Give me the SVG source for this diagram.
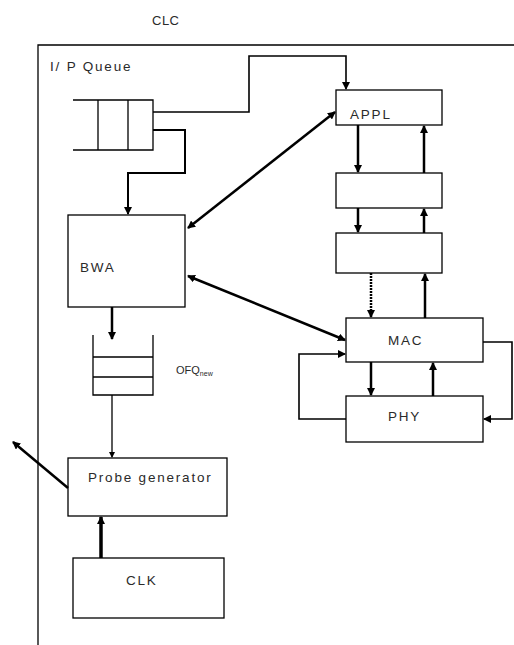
<svg xmlns="http://www.w3.org/2000/svg" width="514" height="645" viewBox="0 0 514 645">
<defs>
<marker id="ah" markerWidth="8" markerHeight="8" refX="7" refY="4" orient="auto" markerUnits="userSpaceOnUse">
<path d="M0,0 L8,4 L0,8 Z" fill="#000"/>
</marker>
<marker id="ahs" markerWidth="8" markerHeight="8" refX="7" refY="4" orient="auto-start-reverse" markerUnits="userSpaceOnUse">
<path d="M0,0 L8,4 L0,8 Z" fill="#000"/>
</marker>
<marker id="ahsm" markerWidth="6" markerHeight="6" refX="5" refY="3" orient="auto" markerUnits="userSpaceOnUse">
<path d="M0,0 L6,3 L0,6 Z" fill="#000"/>
</marker>
</defs>
<style>
.box{fill:#fff;stroke:#000;stroke-width:1.3}
.ln{fill:none;stroke:#000;stroke-width:1.3}
.th{fill:none;stroke:#000;stroke-width:2.5}
.t{font-family:"Liberation Sans",Arial,sans-serif;font-size:13.5px;fill:#2a2a2a;letter-spacing:1.8px}
</style>
<rect width="514" height="645" fill="#fff"/>
<g id="frame">
<path class="ln" d="M514,45 H38 V645"/>
<text class="t" x="152" y="25" style="letter-spacing:0.5px;font-size:13px">CLC</text>
<text class="t" x="50" y="71">I/ P Queue</text>
</g>
<g id="ipqueue">
<path class="ln" d="M73,100 H153 V150 H73 M98,100 V150 M128,100 V150"/>
</g>
<g id="appl"><rect class="box" x="336" y="90" width="106" height="35"/><text class="t" x="350" y="119">APPL</text></g>
<g id="layer2"><rect class="box" x="336" y="173" width="106" height="35"/></g>
<g id="layer3"><rect class="box" x="336" y="233" width="106" height="40"/></g>
<g id="mac"><rect class="box" x="346" y="318" width="137" height="44"/><text class="t" x="388" y="345">MAC</text></g>
<g id="phy"><rect class="box" x="346" y="396" width="137" height="46"/><text class="t" x="388" y="421">PHY</text></g>
<g id="bwa"><rect class="box" x="68" y="215" width="117" height="92"/><text class="t" x="80" y="272">BWA</text></g>
<g id="ofq">
<path class="ln" d="M93,335 V395 H153 V335 M93,357 H153 M93,377 H153"/>
<text class="t" x="176" y="374" style="font-size:11px;letter-spacing:0">OFQ<tspan font-size="7" dy="2">new</tspan></text>
</g>
<g id="probe"><rect class="box" x="68" y="458" width="159" height="58"/><text class="t" x="88" y="482">Probe generator</text></g>
<g id="clk"><rect class="box" x="73" y="558" width="151" height="60"/><text class="t" x="126" y="585">CLK</text></g>
<g id="connectors">
<path class="ln" d="M153,112 H249 V56 H346 V89" marker-end="url(#ah)" style="stroke-width:1.6"/>
<path class="th" d="M153,130 H185 V173 H128 V214" marker-end="url(#ah)" style="stroke-width:2"/>
<path class="th" d="M188,228 L335,112" marker-start="url(#ahs)" marker-end="url(#ah)"/>
<path class="th" d="M188,276 L345,340" marker-start="url(#ahs)" marker-end="url(#ah)"/>
<path class="th" d="M358,125 V172" marker-end="url(#ah)"/>
<path class="th" d="M424,173 V126" marker-end="url(#ah)"/>
<path class="th" d="M358,208 V232" marker-end="url(#ah)"/>
<path class="th" d="M424,233 V209" marker-end="url(#ah)"/>
<path class="th" d="M371,273 V317" marker-end="url(#ah)" stroke-dasharray="2,1"/>
<path class="th" d="M425,318 V274" marker-end="url(#ah)"/>
<path class="th" d="M371,362 V395" marker-end="url(#ah)"/>
<path class="th" d="M433,396 V363" marker-end="url(#ah)"/>
<path class="ln" d="M346,419 H299 V354 H345" marker-end="url(#ah)" style="stroke-width:1.6"/>
<path class="ln" d="M483,342 H512 V419 H484" marker-end="url(#ah)" style="stroke-width:1.6"/>
<path class="th" d="M112,307 V339" marker-end="url(#ah)"/>
<path class="ln" d="M112,395 V457" marker-end="url(#ahsm)"/>
<path class="th" d="M101,558 V517" marker-end="url(#ah)" style="stroke-width:3.5"/>
<path class="th" d="M68,488 L13,442" marker-end="url(#ah)"/>
</g>
</svg>
